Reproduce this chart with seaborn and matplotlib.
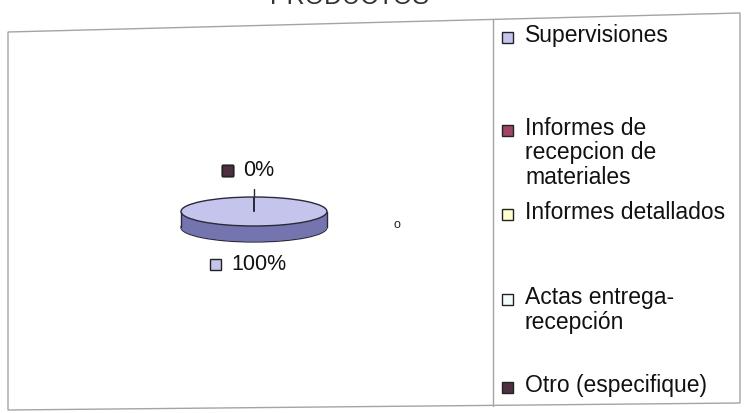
import numpy as np
import matplotlib
matplotlib.use("Agg")
import matplotlib.pyplot as plt
from matplotlib.patches import Rectangle, Polygon
import seaborn as sns

# ---- data ----
categories = ["Supervisiones",
              "Informes de\nrecepcion de\nmateriales",
              "Informes detallados",
              "Actas entrega-\nrecepción",
              "Otro (especifique)"]
values = [100, 0, 0, 0, 0]
title = "PRODUCTOS"
stray_mark = "o"

top_colors = ["#C4C4EC", "#A04468", "#FFFFD0", "#F2FCFC", "#4E3040"]
side_colors = ["#7474AE", "#6A2A44", "#B0B090", "#A0B0B0", "#301C28"]

sns.set_theme(style="white")
plt.rcParams["font.family"] = ["Liberation Sans", "DejaVu Sans"]

W, H = 747, 413
fig = plt.figure(figsize=(W / 100, H / 100), dpi=100)
fig.patch.set_facecolor("white")

# ---- pie (pseudo 3D) ----
cx, cy, rx, ry = 254, 211.5, 73, 14.5
depth = 1.1
pax = fig.add_axes([0, 0, 1, 1])
layers = np.linspace(depth, 0, 40)
for i, k in enumerate(layers):
    edge = "#2a2a3a" if i == 0 else "none"
    pax.pie(values, colors=side_colors, startangle=90, counterclock=False,
            center=(0, -k), radius=1,
            wedgeprops=dict(edgecolor=edge, linewidth=1.0))
pax.plot([-1, -1], [0, -depth], color="#2a2a3a", lw=1.0)
pax.plot([1, 1], [0, -depth], color="#2a2a3a", lw=1.0)
pax.pie(values, colors=top_colors, startangle=90, counterclock=False,
        center=(0, 0), radius=1,
        wedgeprops=dict(edgecolor="#2a2a3a", linewidth=1.0))
pax.set_aspect("auto")
pax.set_xlim((0 - cx) / rx, (W - cx) / rx)
pax.set_ylim((cy - H) / ry, cy / ry)
pax.axis("off")

# ---- overlay in pixel coordinates ----
ov = fig.add_axes([0, 0, 1, 1])
ov.set_xlim(0, W)
ov.set_ylim(H, 0)
ov.axis("off")
ov.patch.set_alpha(0)

# outer frame and legend border
frame_col = "#a4a4a4"
ov.add_patch(Polygon([(8, 32), (740, 13), (740, 403), (8, 410)], closed=True,
                     fill=False, edgecolor=frame_col, lw=1.0))
ov.plot([493, 493], [19.5, 405.5], color=frame_col, lw=1.0)

# title (cut off at top of the scan, as in the reference)
ov.text(270, 4, title, fontsize=18, ha="left", va="baseline", color="#333333")

# data labels (overlapping labels share one text)
renderer = fig.canvas.get_renderer()
total = sum(values)
angle = 90.0
drawn = {}
for val, col in zip(values, top_colors):
    frac = val / total
    mid = np.deg2rad(angle - frac * 180.0)
    angle -= frac * 360.0
    above = np.sin(mid) > 1e-9
    ly = cy - 41.5 if above else cy + 52.5
    label = f"{frac * 100:.0f}%"
    if (ly, label) not in drawn:
        t = ov.text(0, ly, label, fontsize=15.5, ha="left",
                    va="center", color="#111111")
        tw = t.get_window_extent(renderer).width
        left = 248 - (21 + tw) / 2
        t.set_x(left + 21)
        drawn[(ly, label)] = left
        if above:
            # leader line from the rim of the pie up towards the label
            ov.plot([cx + rx * np.cos(mid)] * 2, [cy - ry * np.sin(mid), ly + 19],
                    color="#2a2a3a", lw=1.0)
    left = drawn[(ly, label)]
    ov.add_patch(Rectangle((left, ly - 5.5), 11, 11, facecolor=col,
                           edgecolor="#222222", lw=1.0))

# stray mark
ov.text(397, 225, stray_mark, fontsize=9, ha="center", va="center", color="#222222")

# legend
baselines = [42, 135, 219, 304, 392]
line_gap = 24.5
for lab, col, b in zip(categories, top_colors, baselines):
    ov.add_patch(Rectangle((502, b - 10), 11, 11, facecolor=col,
                           edgecolor="#222222", lw=1.0))
    for j, line in enumerate(lab.split("\n")):
        ov.text(525, b + j * line_gap, line, fontsize=16.5, ha="left",
                va="baseline", color="#111111")

fig.savefig("out.png", dpi=100, facecolor="white")
